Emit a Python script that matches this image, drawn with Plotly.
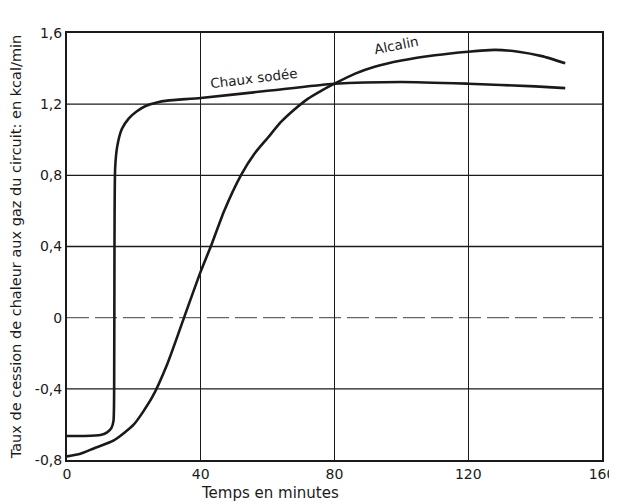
import plotly.graph_objects as go

# Data
chaux_t = [0, 5, 10, 12, 13.3, 13.9, 14.1, 14.2, 14.4, 15, 16.4, 18.5, 20.9, 23.5, 26.9, 30, 40, 60, 80, 100, 120, 140, 149]
chaux_y = [-0.665, -0.665, -0.66, -0.645, -0.62, -0.58, -0.4, 0.4, 0.84, 0.96, 1.06, 1.12, 1.16, 1.19, 1.21, 1.22, 1.235, 1.275, 1.315, 1.325, 1.315, 1.30, 1.29]

alcalin_t = [0, 4, 8, 14, 20, 25.4, 30, 35, 40, 43, 47, 52, 56, 60, 64, 68, 72, 76, 80, 86, 92, 100, 110, 120, 128, 135, 142, 149]
alcalin_y = [-0.78, -0.765, -0.735, -0.69, -0.6, -0.45, -0.26, 0.0, 0.26, 0.4, 0.6, 0.8, 0.92, 1.01, 1.1, 1.17, 1.23, 1.275, 1.315, 1.37, 1.41, 1.445, 1.475, 1.495, 1.505, 1.495, 1.47, 1.43]

x_ticks = [0, 40, 80, 120, 160]
y_ticks = [-0.8, -0.4, 0, 0.4, 0.8, 1.2, 1.6]
y_tick_labels = ["-0,8", "-0,4", "0", "0,4", "0,8", "1,2", "1,6"]

FONT = "DejaVu Sans"
INK = "#1a1a1a"

fig = go.Figure()
fig.add_trace(go.Scatter(x=chaux_t, y=chaux_y, mode="lines", name="Chaux sodée",
                         line=dict(color=INK, width=2.6, shape="spline", smoothing=0.6)))
fig.add_trace(go.Scatter(x=alcalin_t, y=alcalin_y, mode="lines", name="Alcalin",
                         line=dict(color=INK, width=2.6, shape="spline", smoothing=0.6)))

# horizontal grid lines (zero line dashed)
for v in y_ticks:
    if v in (-0.8, 1.6):
        continue
    if v == 0:
        fig.add_hline(y=v, line=dict(color="#666666", width=1.3, dash="22px,6px"), layer="below")
    else:
        fig.add_hline(y=v, line=dict(color=INK, width=1.3), layer="below")

fig.add_annotation(x=56, y=1.262, text="Chaux sodée", showarrow=False, textangle=-7,
                   font=dict(family=FONT, size=13.5, color=INK), yanchor="bottom")
fig.add_annotation(x=98.5, y=1.45, text="Alcalin", showarrow=False, textangle=-11,
                   font=dict(family=FONT, size=13.5, color=INK), yanchor="bottom")
fig.add_annotation(x=0.38, y=-0.077, xref="paper", yref="paper", text="Temps en minutes",
                   showarrow=False, font=dict(family=FONT, size=15, color=INK), yanchor="middle")

fig.update_layout(
    width=617, height=502,
    margin=dict(l=59, r=23, t=25, b=50),
    paper_bgcolor="white", plot_bgcolor="white",
    showlegend=False,
    font=dict(family=FONT, size=13, color=INK),
    xaxis=dict(range=[0, 160], tickvals=x_ticks, ticktext=[str(v) for v in x_ticks],
               showgrid=True, gridcolor=INK, gridwidth=1.3, zeroline=False,
               showline=True, linecolor=INK, linewidth=2, mirror=True, automargin=False,
               ticks="", ticklen=0, tickfont=dict(family=FONT, size=14, color=INK)),
    yaxis=dict(range=[-0.8, 1.6], tickvals=y_ticks, ticktext=y_tick_labels,
               showgrid=False, zeroline=False, automargin=False,
               showline=True, linecolor=INK, linewidth=2, mirror=True,
               ticks="", ticklabelstandoff=0, tickfont=dict(family=FONT, size=14, color=INK),
               title=dict(text="Taux de cession de chaleur aux gaz du circuit: en kcal/min",
                          font=dict(family=FONT, size=14.5, color=INK), standoff=12)),
)

fig.write_html("out.html")
